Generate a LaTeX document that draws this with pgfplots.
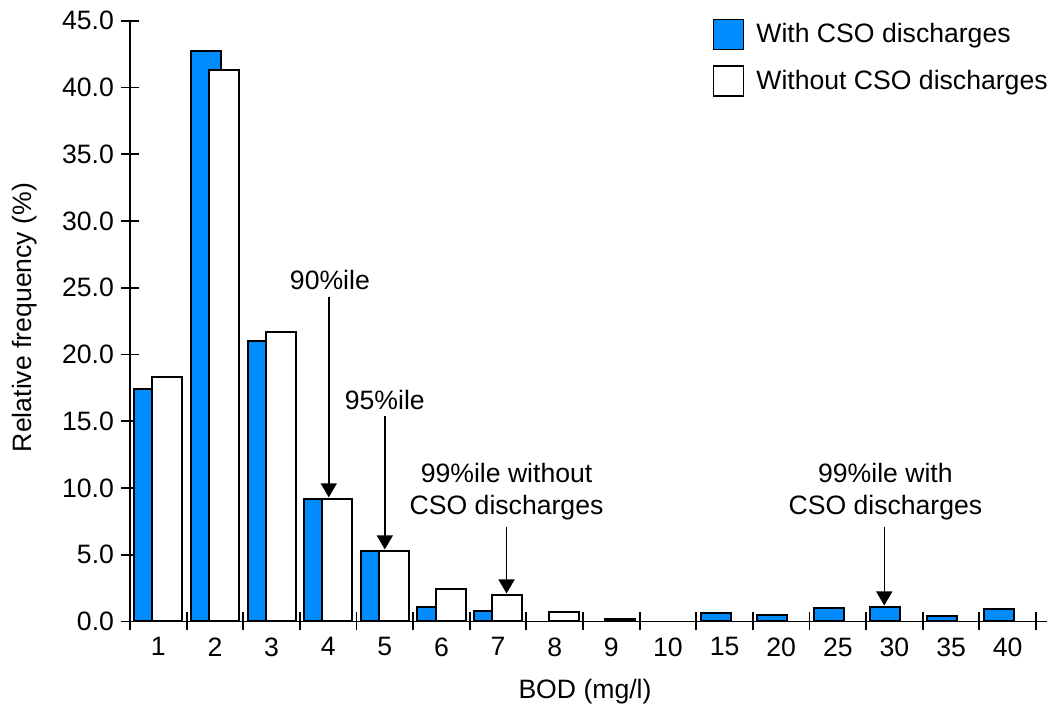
\documentclass[border=0pt]{standalone}
\usepackage{fontspec}
\setmainfont{Liberation Sans}
\usepackage{pgfplots}
\usepackage{pgfplotstable}
\pgfplotsset{compat=1.18}
\usetikzlibrary{arrows.meta}
\definecolor{csoblue}{RGB}{0,140,255}
\newcommand\f{\fontsize{13.3}{16}\selectfont}
\pgfplotsset{sqlegend/.style={legend image code/.code={\draw[##1, line width=0.75pt] (0pt,-7.5pt) rectangle (15pt,7.5pt);}}}

\pgfplotstableread{
x y
0 17.4
1 42.7
2 21.0
3 9.2
4 5.3
5 1.1
6 0.8
10 0.6
11 0.5
12 1.0
13 1.1
14 0.4
15 0.9
}\withcso

\pgfplotstableread{
x y
0 18.3
1 41.3
2 21.7
3 9.2
4 5.3
5 2.4
6 2.0
7 0.7
8 0.2
}\withoutcso

\begin{document}
\begin{tikzpicture}
\begin{axis}[
  scale only axis, width=458.66pt, height=300.4pt,
  xmin=-0.5, xmax=15.7, ymin=0, ymax=45,
  axis x line*=bottom, axis y line*=left,
  axis line style={line width=0.75pt},
  tick align=center,
  major tick length=9pt, minor tick length=9pt,
  every tick/.style={black, line width=0.9pt},
  xtick={0,...,15},
  xticklabels={1,2,3,4,5,6,7,8,9,10,15,20,25,30,35,40},
  major x tick style={draw=none},
  minor xtick={-0.5,0.5,...,15.5},
  ytick={0,5,...,45},
  yticklabel style={/pgf/number format/.cd, fixed, fixed zerofill, precision=1, assume math mode=true},
  tick label style={font=\f},
  xlabel={BOD (mg/l)},
  ylabel={Relative frequency (\%)},
  label style={font=\f},
  xlabel style={at={(axis description cs:0.496,-0.116)}, anchor=center},
  ylabel style={at={(axis description cs:-0.1145,0.506)}, anchor=center},
  legend style={draw=none, fill=none, inner sep=0pt, at={(axis description cs:0.635,1.004)}, anchor=north west, font=\f, row sep=7.5pt},
  legend cell align=left,
  /tikz/every odd column/.append style={column sep=4pt},
  clip=false,
]
\addplot[ybar, bar width=0.53, bar shift=-0.16, fill=csoblue, draw=black, line width=1pt, sqlegend] table {\withcso};
\addplot[ybar, bar width=0.53, bar shift=0.16, fill=white, draw=black, line width=1pt, sqlegend] table {\withoutcso};
\legend{With CSO discharges, Without CSO discharges}

\draw[-{Triangle[length=7pt,width=8pt]}, line width=0.75pt] (axis cs:3.01,24.3) -- (axis cs:3.01,9.3);
\node[font=\f] at (axis cs:3.03,25.6) {90\%ile};
\draw[-{Triangle[length=7pt,width=8pt]}, line width=0.75pt] (axis cs:4.0,15.4) -- (axis cs:4.0,5.4);
\node[font=\f] at (axis cs:4.0,16.6) {95\%ile};
\draw[-{Triangle[length=7pt,width=8pt]}, line width=0.75pt] (axis cs:6.15,7.1) -- (axis cs:6.15,2.1);
\node[font=\f, align=center] at (axis cs:6.15,9.73) {99\%ile without\\CSO discharges};
\draw[-{Triangle[length=7pt,width=8pt]}, line width=0.75pt] (axis cs:12.82,7.1) -- (axis cs:12.82,1.2);
\node[font=\f, align=center] at (axis cs:12.84,9.73) {99\%ile with\\CSO discharges};

\coordinate (bl) at (axis cs:-2.796,-6.33);
\coordinate (tr) at (axis cs:15.80,46.55);
\end{axis}
\pgfresetboundingbox
\path[use as bounding box] (bl) rectangle (tr);
\end{tikzpicture}
\end{document}
